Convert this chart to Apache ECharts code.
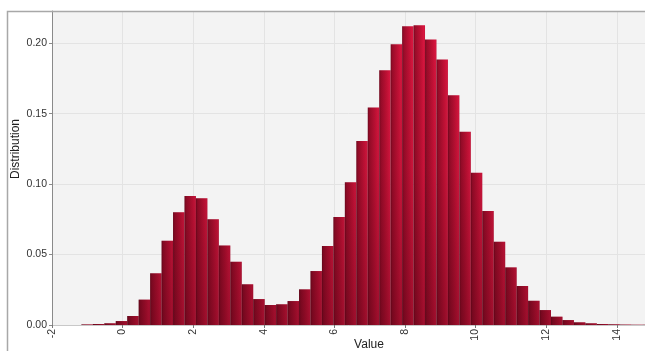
<!DOCTYPE html>
<html>
<head>
<meta charset="utf-8">
<script src="https://cdn.jsdelivr.net/npm/echarts@6/dist/echarts.min.js"></script>
<style>
html,body{margin:0;padding:0;background:#fff;}
#chart{width:645px;height:351px;}
</style>
</head>
<body>
<div id="chart"></div>
<script>
// Histogram definition
var binStart = -1.167;
var binWidth = 0.3245;
var binHeights = [
  0.0004, 0.0007, 0.0012, 0.0028, 0.0064, 0.0180, 0.0367, 0.0598, 0.0800, 0.0915,
  0.0900, 0.0750, 0.0565, 0.0449, 0.0289, 0.0184, 0.0142, 0.0147, 0.0170, 0.0253,
  0.0383, 0.0560, 0.0766, 0.1014, 0.1307, 0.1544, 0.1809, 0.1993, 0.2121, 0.2128,
  0.2026, 0.1884, 0.1631, 0.1371, 0.1080, 0.0810, 0.0591, 0.0409, 0.0277, 0.0172,
  0.0106, 0.0059, 0.0035, 0.0019, 0.0012, 0.0007, 0.0005, 0.0003, 0.0002, 0.0002
];
var yTicks = [0, 0.05, 0.10, 0.15, 0.20];
var xTicks = [-2, 0, 2, 4, 6, 8, 10, 12, 14];
var xTitle = 'Value';
var yTitle = 'Distribution';

var xMin = -2, xMax = 14.8, yMin = 0, yMax = 0.2229;

var data = binHeights.map(function (h, i) {
  return [binStart + i * binWidth, binStart + (i + 1) * binWidth, h];
});

var chart = echarts.init(document.getElementById('chart'), null, {renderer: 'canvas'});
var font = '"Liberation Sans", Arial, sans-serif';

chart.setOption({
  animation: false,
  backgroundColor: '#ffffff',
  grid: {
    left: 52, top: 11, right: 0, bottom: 26,
    show: true, backgroundColor: '#f3f3f3', borderWidth: 0
  },
  xAxis: {
    type: 'value', min: xMin, max: xMax, interval: 2,
    axisLine: {show: true, onZero: false, lineStyle: {color: '#c8c8c8', width: 1}},
    axisTick: {show: true, length: 3, lineStyle: {color: '#777'}},
    splitLine: {show: true, lineStyle: {color: '#e3e3e3', width: 1}},
    axisLabel: {
      rotate: 90, margin: 4, color: '#333', fontSize: 10.5, fontFamily: font,
      showMaxLabel: false,
      formatter: function (v) { return xTicks.indexOf(v) >= 0 ? String(v) : ''; }
    }
  },
  yAxis: {
    type: 'value', min: yMin, max: yMax, interval: 0.05,
    axisLine: {show: true, onZero: false, lineStyle: {color: '#8a8a8a', width: 1}},
    axisTick: {show: true, length: 3, lineStyle: {color: '#8a8a8a'}},
    splitLine: {show: true, lineStyle: {color: '#e3e3e3', width: 1}},
    axisLabel: {
      margin: 5, color: '#333', fontSize: 10.5, fontFamily: font,
      showMaxLabel: false,
      formatter: function (v) {
        for (var i = 0; i < yTicks.length; i++) {
          if (Math.abs(yTicks[i] - v) < 1e-9) return yTicks[i].toFixed(2);
        }
        return '';
      }
    }
  },
  series: [{
    type: 'custom',
    clip: true,
    data: data,
    encode: {x: [0, 1], y: 2},
    renderItem: function (params, api) {
      var x0 = api.value(0), x1 = api.value(1), h = api.value(2);
      var pTop = api.coord([x0, h]);
      var pBot = api.coord([x1, 0]);
      var rect = {
        x: pTop[0], y: pTop[1],
        width: pBot[0] - pTop[0], height: pBot[1] - pTop[1]
      };
      var yBase = api.coord([xMin, 0])[1];
      var yTopPx = api.coord([xMin, yMax])[1];
      return {
        type: 'group',
        children: [
          {
            type: 'rect', shape: rect,
            style: {
              fill: new echarts.graphic.LinearGradient(0, 0, 1, 0, [
                {offset: 0, color: '#760920'},
                {offset: 0.15, color: '#9c0c2a'},
                {offset: 0.7, color: '#ca1238'},
                {offset: 0.92, color: '#dc1741'},
                {offset: 1, color: '#c61238'}
              ])
            }
          },
          {
            type: 'rect', shape: rect,
            style: {
              fill: new echarts.graphic.LinearGradient(0, yTopPx, 0, yBase, [
                {offset: 0, color: 'rgba(0,0,0,0)'},
                {offset: 0.5, color: 'rgba(40,0,8,0.10)'},
                {offset: 1, color: 'rgba(40,0,8,0.34)'}
              ], true)
            }
          }
        ]
      };
    }
  }],
  graphic: [
    {
      type: 'polyline', silent: true, z: 100,
      shape: {points: [[7.5, 351], [7.5, 11.5], [645, 11.5]]},
      style: {stroke: '#a8a8a8', lineWidth: 1.5, fill: null}
    },
    {
      type: 'text', x: 16, y: 149, rotation: Math.PI / 2,
      style: {
        text: yTitle, fill: '#222', font: '12px ' + font,
        align: 'center', verticalAlign: 'middle'
      }
    },
    {
      type: 'text', x: 369, y: 345,
      style: {
        text: xTitle, fill: '#222', font: '12px ' + font,
        align: 'center', verticalAlign: 'middle'
      }
    }
  ]
});
</script>
</body>
</html>
